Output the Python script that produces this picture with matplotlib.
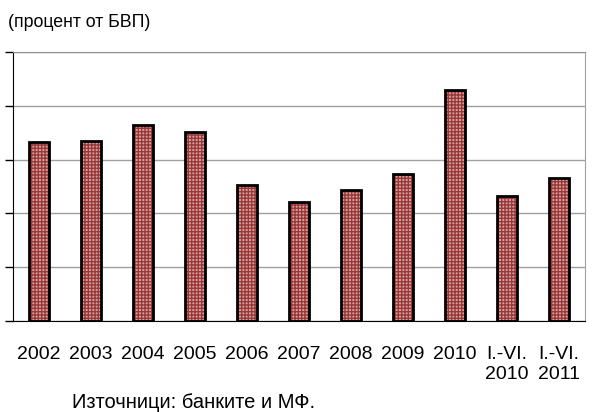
import matplotlib.pyplot as plt

plt.rcParams['font.family'] = ['Liberation Sans', 'DejaVu Sans']

# %% data (percent of GDP)
labels = ['2002', '2003', '2004', '2005', '2006', '2007', '2008', '2009', '2010',
          'I.-VI.\n2010', 'I.-VI.\n2011']
values = [3.33, 3.34, 3.65, 3.51, 2.52, 2.21, 2.43, 2.74, 4.29, 2.32, 2.66]

# %% plot
fig = plt.figure(figsize=(5.93, 4.12), dpi=100)
ax = fig.add_axes([0.0219, 0.2209, 0.9646, 0.6529])

x = range(len(values))
plt.rcParams['hatch.linewidth'] = 1.0
ax.bar(x, values, width=0.4, color='#d6a4a4', edgecolor='#9a3838',
       hatch='+++++', linewidth=0, zorder=2)
ax.bar(x, values, width=0.4, fill=False, edgecolor='black', linewidth=2, zorder=3)

ax.set_xlim(-0.5, len(values) - 0.5)
ax.set_ylim(0, 5)
ax.set_yticks(range(6))
ax.set_yticklabels([])
ax.tick_params(axis='y', length=6, width=1, color='black')
ax.set_xticks(list(x))
ax.set_xticklabels(labels, fontsize=14, linespacing=1.2)
ax.tick_params(axis='x', length=0, pad=18)
ax.grid(axis='y', color='#a0a0a0', linewidth=1, zorder=0)
ax.set_axisbelow(True)

ax.spines['left'].set_color('black')
ax.spines['bottom'].set_color('black')
ax.spines['top'].set_color('#909090')
ax.spines['right'].set_color('#a0a0a0')

fig.text(0.013, 0.946, '(процент от БВП)', fontsize=12.8, va='center')
fig.text(0.121, 0.009, 'Източници: банките и МФ.', fontsize=14.5, va='baseline')

plt.savefig('out.png')
